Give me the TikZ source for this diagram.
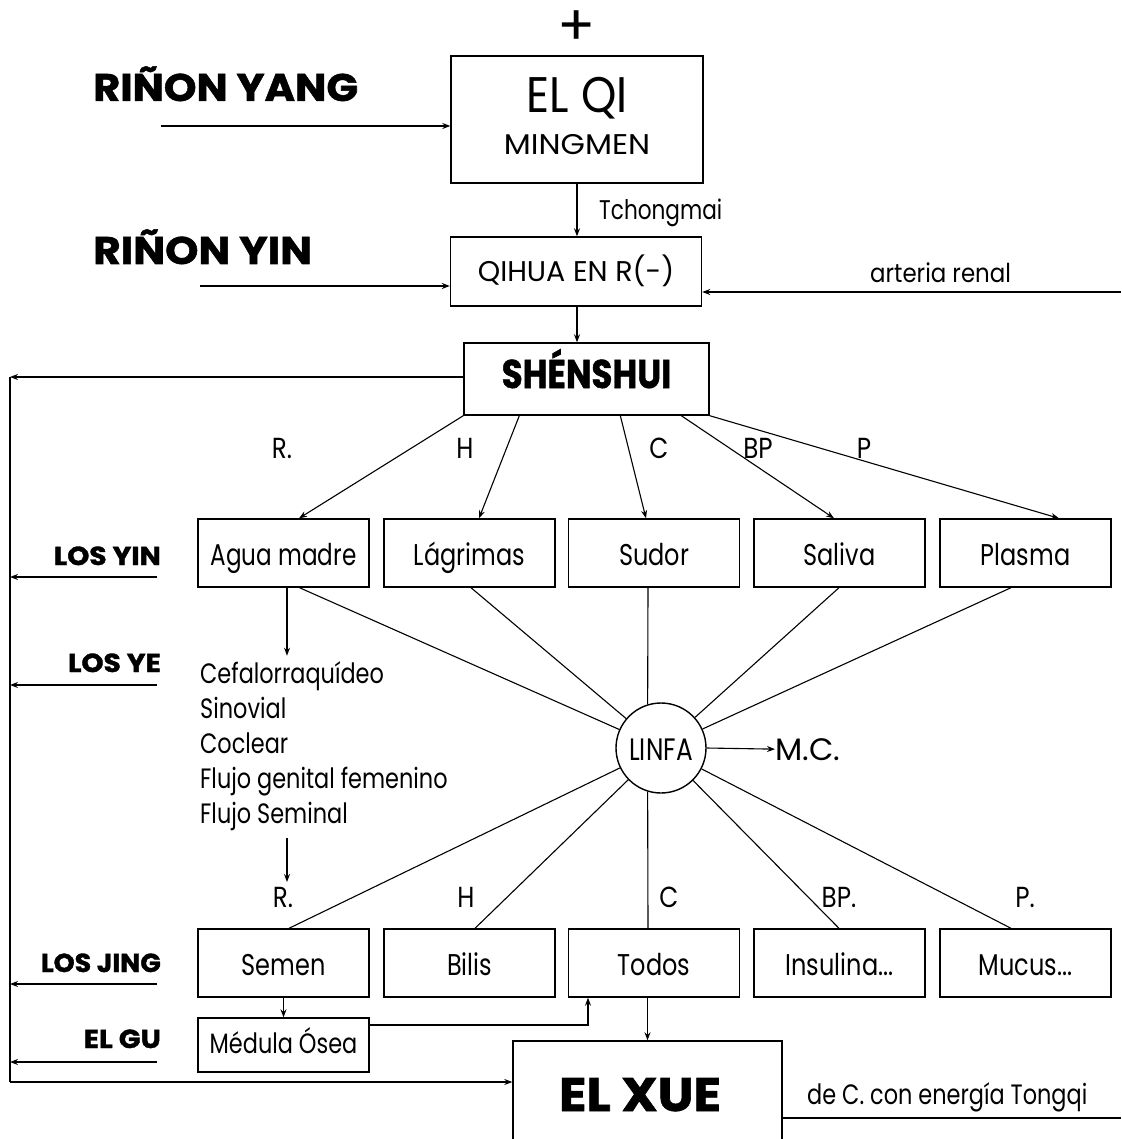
\documentclass[tikz,border=0pt]{standalone}
\usepackage{fontspec}
\usepackage{graphicx}
\setmainfont{Poppins}[BoldFeatures={FakeBold=1.3}]
\usetikzlibrary{arrows.meta}
\newcommand\fz[3]{\fontsize{#1}{#1}\selectfont\scalebox{#2}[1]{#3}}
\newcommand\fzb[3]{\fontsize{#1}{#1}\selectfont\bfseries\scalebox{#2}[1]{#3}}
\begin{document}
\begin{tikzpicture}[x=1pt,y=-1pt,
  box/.style={draw, line width=1.4pt, minimum width=171pt, minimum height=68pt, inner sep=0pt, text height=24pt, text depth=0pt},
  arr/.style={-{Stealth[length=8pt,width=6pt]}, line width=1.1pt},
  ln/.style={line width=1.1pt},
  lab/.style={inner sep=0pt, anchor=base},
  labw/.style={inner sep=0pt, anchor=base west},
  labe/.style={inner sep=0pt, anchor=base east}]
\fill[white] (0,0) rectangle (1121,1139);
\clip (0,0) rectangle (1121,1139);

% top
\node[inner sep=0pt] (plus) at (577,28) {\fz{56}{1}{+}};
\node[box, minimum width=252pt, minimum height=127pt] (elqi) at (577,119.5) {};
\node[lab] (elqit) at (577,113) {\fz{50}{0.9}{EL QI}};
\node[lab] (mingmen) at (577,155) {\fz{28.5}{1.1}{MINGMEN}};
\node[labw] (yang) at (93,101) {\fzb{38.5}{1.08}{RIÑON YANG}};
\node[labw] (yin) at (93,264) {\fzb{38.5}{1.1}{RIÑON YIN}};
\node[box, minimum width=251pt, minimum height=69pt, text height=20pt] (qihua) at (576,271.5) {\fz{28.5}{1}{QIHUA EN R(-)}};
\node[labw] (tchong) at (599,220) {\fz{27}{0.8}{Tchongmai}};
\node[labw] (arteria) at (870,283) {\fz{26}{0.88}{arteria renal}};
\node[box, minimum width=245pt, minimum height=72pt, text height=18pt] (shen) at (586.5,379) {\fzb{40}{0.85}{SHÉNSHUI}};

\coordinate (yangsrc) at (161,126);
\coordinate (yinsrc) at (200,286);
\coordinate (artsrc) at (1121,292);
\draw[arr] (yangsrc) -- (yangsrc -| elqi.west);
\draw[arr] (elqi.south) -- (qihua.north -| elqi.south);
\draw[arr] (yinsrc) -- (yinsrc -| qihua.west);
\draw[arr] (artsrc) -- (artsrc -| qihua.east);
\draw[arr] (qihua.south -| elqi.south) -- (shen.north -| elqi.south);

% row 1
\node[box] (agua) at (283.5,553) {\fz{30}{0.77}{Agua madre}};
\node[box] (lag) at (469.5,553) {\fz{30}{0.8}{Lágrimas}};
\node[box] (sud) at (654,553) {\fz{30}{0.8}{Sudor}};
\node[box] (sal) at (839.5,553) {\fz{30}{0.8}{Saliva}};
\node[box] (pla) at (1025.5,553) {\fz{30}{0.8}{Plasma}};

\node[lab] (r1) at (282,458) {\fz{29}{0.85}{R.}};
\node[lab] (h1) at (465,458) {\fz{29}{0.85}{H}};
\node[lab] (c1) at (659,458) {\fz{29}{0.85}{C}};
\node[lab] (bp1) at (758,458) {\fz{29}{0.85}{BP}};
\node[lab] (p1) at (864,458) {\fz{29}{0.85}{P}};

\draw[arr] (shen.south west) -- ([xshift=15.5pt]agua.north);
\draw[arr] ([xshift=56pt]shen.south west) -- ([xshift=9.5pt]lag.north);
\draw[arr] ([xshift=157pt]shen.south west) -- ([xshift=-8pt]sud.north);
\draw[arr] ([xshift=218pt]shen.south west) -- ([xshift=-5.5pt]sal.north);
\draw[arr] (shen.south east) -- ([xshift=33.5pt]pla.north);

% left labels
\node[labe] (losyin) at (161,565) {\fzb{26}{1.08}{LOS YIN}};
\node[labe] (losye) at (161,672) {\fzb{26}{1.08}{LOS YE}};
\node[labe] (losjing) at (161,972) {\fzb{26}{1.03}{LOS JING}};
\node[labe] (elgu) at (161,1048) {\fzb{26}{1.1}{EL GU}};

% Ye list
\node[labw] (ye1) at (200,683) {\fz{28}{0.8}{Cefalorraquídeo}};
\node[labw] (ye2) at (200,718) {\fz{28}{0.8}{Sinovial}};
\node[labw] (ye3) at (200,753) {\fz{28}{0.8}{Coclear}};
\node[labw] (ye4) at (200,788) {\fz{28}{0.8}{Flujo genital femenino}};
\node[labw] (ye5) at (200,823) {\fz{28}{0.8}{Flujo Seminal}};
\draw[arr] ([xshift=3.5pt]agua.south) -- ++(0,68);
\coordinate (fs1) at (287,838);
\coordinate (fs2) at (287,882);
\draw[arr] (fs1) -- (fs2);

% LINFA
\node[circle, draw, line width=1.4pt, minimum size=90pt, inner sep=0pt, text height=24pt, text depth=0pt] (linfa) at (661,748) {\fz{31}{0.8}{LINFA}};
\node[labw] (mc) at (775,760) {\fz{31}{1.02}{M.C.}};
\draw[arr] (linfa.east) -- (mc.west);

% row 2
\node[box] (sem) at (283.5,963) {\fz{30}{0.8}{Semen}};
\node[box] (bil) at (469.5,963) {\fz{30}{0.8}{Bilis}};
\node[box] (tod) at (654,963) {\fz{30}{0.8}{Todos}};
\node[box] (ins) at (839.5,963) {\fz{30}{0.8}{Insulina...}};
\node[box] (muc) at (1025.5,963) {\fz{30}{0.8}{Mucus...}};

\node[lab] (r2) at (283,907) {\fz{29}{0.85}{R.}};
\node[lab] (h2) at (466,907) {\fz{29}{0.85}{H}};
\node[lab] (c2) at (669,907) {\fz{29}{0.85}{C}};
\node[lab] (bp2) at (839,907) {\fz{29}{0.85}{BP.}};
\node[lab] (p2) at (1025,907) {\fz{29}{0.85}{P.}};

% radiating lines
\draw[ln] ([xshift=16pt]agua.south) -- (linfa);
\draw[ln] ([xshift=1.5pt]lag.south) -- (linfa);
\draw[ln] ([xshift=-6pt]sud.south) -- (linfa.107);
\draw[ln] ([xshift=-0.5pt]sal.south) -- (linfa);
\draw[ln] ([xshift=-14.5pt]pla.south) -- (linfa);
\draw[ln] (linfa) -- ([xshift=5.5pt]sem.north);
\draw[ln] (linfa) -- ([xshift=5.5pt]bil.north);
\draw[ln] (linfa.253) -- ([xshift=-6pt]tod.north);
\draw[ln] (linfa) -- ([xshift=-0.5pt]ins.north);
\draw[ln] (linfa) -- ([xshift=-14.5pt]muc.north);

% medula, xue
\node[box, minimum height=54pt, text height=17pt] (med) at (283.5,1045) {\fz{28}{0.8}{Médula Ósea}};
\node[draw, line width=1.4pt, minimum width=269pt, minimum height=200pt, inner sep=0pt] (elxue) at (647.5,1141) {};
\node[lab] (elxuet) at (640,1111) {\fzb{47}{1.08}{EL XUE}};
\node[labw] (dec) at (807,1104) {\fz{28}{0.8}{de C. con energía Tongqi}};
\draw[arr] (sem.south) -- (med.north);
\draw[arr] ([yshift=20pt]med.east) -| ([xshift=-66pt]tod.south);
\draw[arr] (tod.south -| elxue.north) -- (elxue.north);
\draw[ln] (elxue.east |- 0,1118) -- (1121,1118);

% left spine
\coordinate (sp1) at (10,377);
\coordinate (sp2) at (10,1082);
\draw[arr] (shen.west |- sp1) -- (sp1);
\draw[ln] (sp1) -- (sp2);
\draw[arr] (sp2) -- (sp2 -| elxue.west);
\draw[arr] (157,577) -- (10,577);
\draw[arr] (157,685) -- (10,685);
\draw[arr] (157,984) -- (10,984);
\draw[arr] (157,1062) -- (10,1062);
\end{tikzpicture}
\end{document}
